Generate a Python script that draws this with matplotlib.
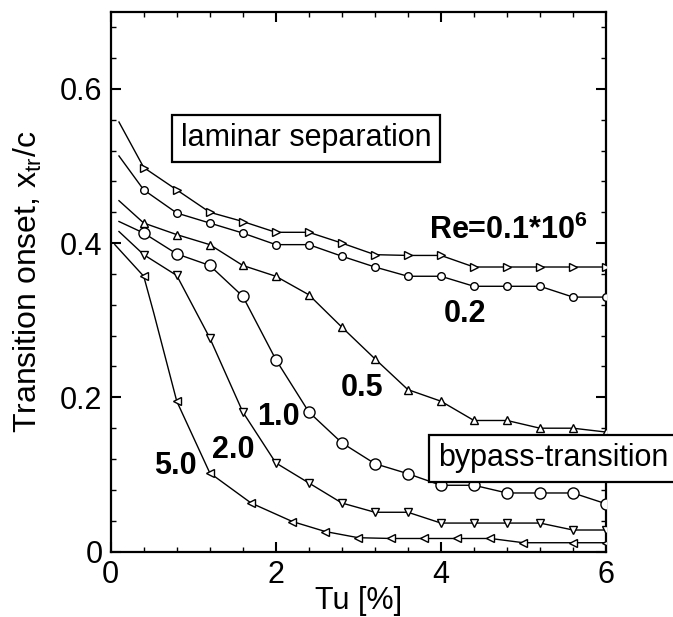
import matplotlib
matplotlib.use("Agg")
import matplotlib.pyplot as plt
from matplotlib.ticker import MultipleLocator

plt.rcParams['font.family'] = ['Liberation Sans', 'DejaVu Sans']
plt.rcParams['mathtext.fontset'] = 'custom'
plt.rcParams['mathtext.rm'] = 'Liberation Sans'
plt.rcParams['mathtext.it'] = 'Liberation Sans:italic'
plt.rcParams['mathtext.bf'] = 'Liberation Sans:bold'

# ---- data ----
tu_re01 = [0.1, 0.4, 0.8, 1.2, 1.6, 2.0, 2.4, 2.8, 3.2, 3.6, 4.0, 4.4, 4.8, 5.2, 5.6, 6.0]
xt_re01 = [0.557, 0.498, 0.469, 0.440, 0.428, 0.414, 0.414, 0.400, 0.385, 0.384, 0.384, 0.369, 0.369, 0.369, 0.369, 0.369]

tu_re02 = [0.1, 0.4, 0.8, 1.2, 1.6, 2.0, 2.4, 2.8, 3.2, 3.6, 4.0, 4.4, 4.8, 5.2, 5.6, 6.0]
xt_re02 = [0.513, 0.469, 0.439, 0.426, 0.413, 0.398, 0.398, 0.383, 0.369, 0.357, 0.357, 0.344, 0.344, 0.344, 0.330, 0.330]

tu_re05 = [0.1, 0.4, 0.8, 1.2, 1.6, 2.0, 2.4, 2.8, 3.2, 3.6, 4.0, 4.4, 4.8, 5.2, 5.6, 6.0]
xt_re05 = [0.455, 0.426, 0.411, 0.398, 0.371, 0.357, 0.333, 0.291, 0.250, 0.210, 0.195, 0.170, 0.170, 0.160, 0.160, 0.155]

tu_re10 = [0.1, 0.4, 0.8, 1.2, 1.6, 2.0, 2.4, 2.8, 3.2, 3.6, 4.0, 4.4, 4.8, 5.2, 5.6, 6.0]
xt_re10 = [0.428, 0.413, 0.386, 0.371, 0.331, 0.249, 0.181, 0.141, 0.114, 0.101, 0.086, 0.086, 0.076, 0.076, 0.076, 0.062]

tu_re20 = [0.1, 0.4, 0.8, 1.2, 1.6, 2.0, 2.4, 2.8, 3.2, 3.6, 4.0, 4.4, 4.8, 5.2, 5.6, 6.0]
xt_re20 = [0.415, 0.385, 0.358, 0.277, 0.181, 0.115, 0.089, 0.063, 0.051, 0.051, 0.037, 0.037, 0.037, 0.037, 0.028, 0.028]

tu_re50 = [0.05, 0.4, 0.52, 0.8, 1.2, 1.7, 2.2, 2.6, 3.0, 3.4, 3.8, 4.2, 4.6, 5.0, 5.6, 6.0]
xt_re50 = [0.398, 0.357, 0.310, 0.195, 0.102, 0.063, 0.039, 0.026, 0.018, 0.017, 0.017, 0.017, 0.017, 0.0115, 0.0115, 0.0115]

series = [
    (tu_re01, xt_re01, '>', 6.0),
    (tu_re02, xt_re02, 'o', 5.5),
    (tu_re05, xt_re05, '^', 6.0),
    (tu_re10, xt_re10, 'o', 8.0),
    (tu_re20, xt_re20, 'v', 6.0),
    (tu_re50, xt_re50, '<', 6.0),
]
marker_idx = [list(range(1, 16))] * 5 + [[1] + list(range(3, 16))]

curve_labels = ['Re=0.1*10$^{\\mathbf{6}}$', '0.2', '0.5', '1.0', '2.0', '5.0']
label_tu = [4.81, 4.29, 3.04, 2.03, 1.48, 0.78]
label_xt = [0.416, 0.308, 0.212, 0.175, 0.132, 0.111]

# ---- figure ----
fig = plt.figure(figsize=(6.73, 6.17), dpi=100)
ax = fig.add_axes([0.1645, 0.106, 0.736, 0.875])

for (tu, xt, mk, ms), idx in zip(series, marker_idx):
    ax.plot(tu, xt, color='black', lw=1.0, marker=mk, ms=ms, mfc='white',
            mec='black', mew=1.0, markevery=idx, zorder=3)

for lab, lx, ly in zip(curve_labels, label_tu, label_xt):
    ax.text(lx, ly, lab, fontsize=22, fontweight='bold', ha='center', va='center', zorder=5)

ax.text(2.37, 0.536, 'laminar separation', fontsize=22, ha='center', va='center', zorder=10,
        bbox=dict(boxstyle='square,pad=0.28', fc='white', ec='black', lw=1.6))
ax.text(3.96, 0.121, 'bypass-transition', fontsize=22, ha='left', va='center', zorder=10,
        clip_on=False,
        bbox=dict(boxstyle='square,pad=0.28', fc='white', ec='black', lw=1.6))

ax.set_xlim(0, 6)
ax.set_ylim(0, 0.7)
ax.set_xticks([0, 2, 4, 6])
ax.set_yticks([0, 0.2, 0.4, 0.6])
ax.set_yticklabels(['0', '0.2', '0.4', '0.6'])
ax.xaxis.set_minor_locator(MultipleLocator(0.4))
ax.yaxis.set_minor_locator(MultipleLocator(0.04))
ax.tick_params(which='both', direction='in', top=True, right=True)
ax.tick_params(which='major', length=7, width=1.5, labelsize=22)
ax.tick_params(axis='x', which='major', pad=6)
ax.tick_params(axis='y', which='major', pad=6)
ax.tick_params(which='minor', length=3.5, width=1.0)
for s in ax.spines.values():
    s.set_linewidth(1.6)

ax.set_xlabel('Tu [%]', fontsize=22, labelpad=-3)
ax.set_ylabel('Transition onset, x$_{\\mathrm{tr}}$/c', fontsize=23)
ax.yaxis.set_label_coords(-0.135, 0.5)

fig.savefig('out.png', dpi=100)
